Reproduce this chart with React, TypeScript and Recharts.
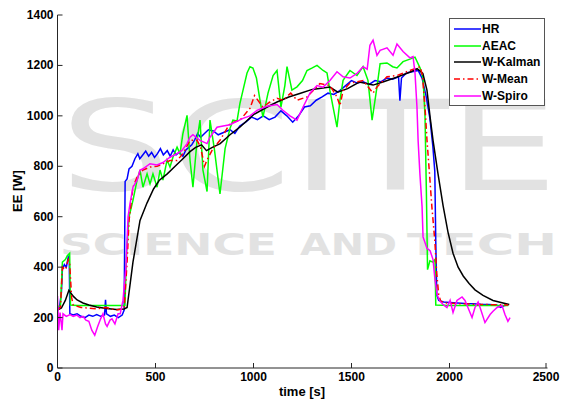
import * as React from 'react'
import { LineChart, Line, XAxis, YAxis } from 'recharts'

// time [s] / EE [W] pairs
const hrSeries: [number, number][] = [
  [0, 235], [10, 240], [20, 300], [25, 390], [35, 410], [45, 400], [55, 440], [60, 430], [63, 215], [80, 210],
  [100, 215], [120, 205], [140, 200], [160, 210], [180, 205], [200, 212], [220, 205], [240, 210], [245, 270], [250, 215],
  [270, 205], [290, 210], [310, 200], [330, 210], [340, 230], [345, 740], [355, 750], [365, 790], [380, 800], [395, 830],
  [410, 850], [420, 830], [435, 845], [450, 860], [465, 840], [480, 855], [495, 835], [510, 850], [525, 870], [540, 845],
  [560, 862], [575, 840], [590, 865], [605, 845], [620, 855], [640, 840], [655, 865], [670, 875], [685, 885], [700, 905],
  [715, 930], [730, 915], [750, 930], [770, 945], [795, 940], [820, 925], [850, 935], [880, 945], [905, 930], [930, 960],
  [960, 975], [990, 995], [1020, 985], [1050, 1000], [1080, 985], [1110, 995], [1140, 1020], [1170, 1000], [1200, 975],
  [1230, 1000], [1260, 1035], [1290, 1040], [1320, 1062], [1350, 1075], [1380, 1090], [1410, 1085], [1440, 1100],
  [1470, 1120], [1500, 1140], [1530, 1130], [1560, 1135], [1590, 1125], [1620, 1140], [1650, 1135], [1680, 1150],
  [1710, 1145], [1740, 1155], [1747, 1060], [1755, 1150], [1780, 1170], [1810, 1175], [1840, 1180], [1860, 1150],
  [1880, 1080], [1900, 990], [1915, 880], [1925, 780], [1930, 500], [1935, 290], [1945, 268], [1970, 262], [2000, 260],
  [2040, 258], [2080, 256], [2120, 255], [2160, 253], [2200, 252], [2240, 250], [2260, 240], [2280, 248], [2300, 250]
]

const aeacSeries: [number, number][] = [
  [0, 245], [15, 245], [20, 330], [25, 420], [40, 430], [50, 445], [62, 455], [66, 250], [100, 248], [200, 248],
  [300, 248], [344, 248], [352, 450], [365, 600], [385, 665], [406, 745], [421, 785], [436, 717], [457, 770], [472, 730],
  [487, 770], [508, 717], [523, 785], [538, 745], [559, 825], [574, 797], [589, 836], [610, 876], [625, 850], [640, 930],
  [661, 1002], [676, 825], [691, 717], [712, 903], [727, 983], [742, 785], [763, 700], [778, 983], [800, 870], [829, 690],
  [855, 870], [880, 950], [895, 983], [916, 980], [931, 1050], [946, 1100], [967, 1170], [982, 1195], [997, 1190],
  [1015, 1150], [1033, 1062], [1048, 995], [1074, 1090], [1100, 1160], [1120, 1180], [1140, 1035], [1160, 1120],
  [1171, 1195], [1196, 1102], [1222, 1115], [1250, 1140], [1273, 1180], [1300, 1190], [1324, 1200], [1355, 1180],
  [1375, 1170], [1390, 1100], [1406, 1035], [1426, 955], [1441, 1062], [1457, 1141], [1492, 1180], [1528, 1160],
  [1559, 1195], [1584, 1141], [1605, 983], [1630, 1115], [1646, 1207], [1681, 1210], [1710, 1195], [1732, 1190],
  [1763, 1215], [1798, 1225], [1824, 1233], [1850, 1190], [1865, 1150], [1875, 1000], [1882, 700], [1888, 390],
  [1900, 425], [1915, 420], [1926, 430], [1930, 250], [2000, 248], [2300, 248]
]

const kalmanSeries: [number, number][] = [
  [0, 230], [20, 238], [40, 268], [58, 308], [80, 285], [100, 270], [130, 258], [160, 250], [200, 242], [250, 236],
  [300, 232], [340, 234], [355, 240], [385, 420], [421, 585], [457, 655], [490, 710], [520, 745], [560, 770], [600, 800],
  [640, 830], [676, 858], [705, 875], [735, 885], [760, 862], [790, 875], [830, 890], [880, 925], [930, 955], [1000, 1005],
  [1070, 1035], [1120, 1055], [1180, 1075], [1240, 1090], [1300, 1105], [1390, 1114], [1430, 1094], [1480, 1108],
  [1540, 1134], [1610, 1122], [1660, 1134], [1730, 1153], [1800, 1174], [1835, 1187], [1864, 1168], [1885, 1102],
  [1901, 995], [1916, 903], [1941, 772], [1967, 645], [1992, 540], [2018, 455], [2044, 400], [2070, 365], [2100, 335],
  [2130, 310], [2171, 288], [2222, 268], [2273, 258], [2305, 252]
]

const meanSeries: [number, number][] = [
  [0, 230], [15, 240], [25, 400], [40, 390], [55, 430], [62, 415], [72, 280], [80, 250], [120, 240], [200, 235],
  [250, 240], [300, 230], [340, 235], [355, 420], [365, 585], [385, 717], [406, 757], [436, 785], [472, 797], [508, 800],
  [538, 810], [574, 823], [610, 823], [640, 850], [676, 903], [712, 903], [730, 876], [750, 800], [763, 825], [793, 870],
  [829, 903], [880, 970], [931, 983], [982, 1030], [1005, 1080], [1048, 1035], [1084, 1055], [1120, 1070], [1150, 1062],
  [1190, 1090], [1222, 1062], [1273, 1075], [1339, 1128], [1390, 1120], [1426, 1075], [1441, 1040], [1457, 1100],
  [1492, 1130], [1559, 1140], [1610, 1090], [1630, 1115], [1681, 1155], [1732, 1160], [1798, 1180], [1850, 1195],
  [1862, 1160], [1875, 1035], [1885, 905], [1898, 770], [1910, 640], [1925, 506], [1935, 374], [1945, 290], [1955, 265],
  [1975, 258], [2050, 255], [2150, 252], [2300, 250]
]

const spiroSeries: [number, number][] = [
  [0, 285], [6, 150], [13, 220], [23, 150], [28, 215], [45, 205], [64, 212], [80, 205], [99, 210], [115, 200],
  [130, 205], [145, 190], [160, 185], [175, 150], [190, 130], [205, 165], [220, 195], [232, 215], [245, 175], [253, 165],
  [268, 190], [278, 195], [293, 175], [309, 215], [320, 215], [334, 268], [349, 400], [360, 600], [370, 652], [385, 717],
  [406, 745], [421, 785], [436, 790], [472, 810], [508, 805], [538, 815], [574, 836], [610, 850], [635, 863], [661, 890],
  [676, 915], [691, 925], [727, 903], [763, 890], [778, 915], [814, 955], [845, 960], [880, 965], [946, 990], [982, 1000],
  [1018, 1022], [1069, 1038], [1120, 1045], [1150, 1022], [1186, 1000], [1222, 983], [1253, 1035], [1288, 1090],
  [1324, 1120], [1355, 1114], [1390, 1140], [1426, 1175], [1457, 1155], [1492, 1150], [1528, 1168], [1559, 1195],
  [1580, 1185], [1594, 1280], [1610, 1300], [1630, 1240], [1646, 1260], [1681, 1270], [1712, 1240], [1732, 1285],
  [1763, 1255], [1798, 1230], [1814, 1235], [1824, 1170], [1834, 1035], [1840, 900], [1849, 770], [1860, 640],
  [1865, 520], [1885, 475], [1901, 465], [1916, 430], [1926, 350], [1937, 290], [1951, 265], [1970, 250], [1987, 240],
  [2003, 268], [2018, 220], [2038, 268], [2064, 282], [2079, 268], [2094, 240], [2115, 200], [2130, 240], [2146, 262],
  [2156, 240], [2181, 180], [2207, 212], [2222, 225], [2243, 240], [2268, 248], [2283, 212], [2298, 185], [2309, 200]
]

const xTicks = [0, 500, 1000, 1500, 2000, 2500]
const yTicks = [0, 200, 400, 600, 800, 1000, 1200, 1400]

const series = [
  { name: 'HR', data: hrSeries, color: '#0000ff', dash: undefined },
  { name: 'AEAC', data: aeacSeries, color: '#00ff00', dash: undefined },
  { name: 'W-Kalman', data: kalmanSeries, color: '#000000', dash: undefined },
  { name: 'W-Mean', data: meanSeries, color: '#ff0000', dash: '6 3 1.5 3' },
  { name: 'W-Spiro', data: spiroSeries, color: '#ff00ff', dash: undefined }
]

const toRows = (s: [number, number][]) => s.map(([t, v]) => ({ t, v }))

const FONT = '"Liberation Sans", Arial, sans-serif'
const AXIS = '#262626'

const XTick = (props: any) => {
  const { x, y, payload } = props
  return (
    <g>
      <line x1={x} x2={x} y1={y} y2={y - 5} stroke={AXIS} />
      <text x={x} y={y + 9} textAnchor="middle" dominantBaseline="central" fontSize={12} fontWeight="bold" fontFamily={FONT} fill="#000">
        {payload.value}
      </text>
    </g>
  )
}

const YTick = (props: any) => {
  const { x, y, payload } = props
  return (
    <g>
      <line x1={x} x2={x + 5} y1={y} y2={y} stroke={AXIS} />
      <text x={x - 4} y={y} textAnchor="end" dominantBaseline="central" fontSize={12} fontWeight="bold" fontFamily={FONT} fill="#000">
        {payload.value}
      </text>
    </g>
  )
}

function LegendBox(): React.ReactElement {
  return (
    <div style={{ position: 'absolute', left: 449, top: 18, width: 94, height: 84, border: '1px solid #555', background: '#fff', paddingTop: 2 }}>
      {series.map((s) => (
        <div key={s.name} style={{ height: 16.6, display: 'flex', alignItems: 'center' }}>
          <svg width={31} height={10} style={{ flex: 'none' }}>
            <line x1={4} x2={31} y1={5} y2={5} stroke={s.color} strokeWidth={1.5} strokeDasharray={s.dash} />
          </svg>
          <span style={{ fontSize: 12, fontWeight: 'bold', fontFamily: FONT, color: '#000', marginLeft: 1, lineHeight: '14px' }}>{s.name}</span>
        </div>
      ))}
    </div>
  )
}

// faint publisher watermark behind the plot
function Watermark(): React.ReactElement {
  return (
    <svg width={562} height={400} style={{ position: 'absolute', left: 0, top: 0 }}>
      <g fill="#e2e2e2" fontFamily='"DejaVu Sans", sans-serif'>
        <text x={60} y={190} fontSize={124} textLength={498} lengthAdjust="spacingAndGlyphs">SCITE</text>
        <text x={60} y={255} fontSize={30} fontWeight="bold" textLength={217} lengthAdjust="spacingAndGlyphs">SCIENCE</text>
        <text x={300} y={255} fontSize={30} fontWeight="bold" textLength={97} lengthAdjust="spacingAndGlyphs">AND</text>
        <text x={407} y={255} fontSize={30} fontWeight="bold" textLength={150} lengthAdjust="spacingAndGlyphs">TECH</text>
      </g>
    </svg>
  )
}

export default function App(): React.ReactElement {
  return (
    <div style={{ position: 'absolute', left: 0, top: 0, width: 562, height: 400, background: '#fff', overflow: 'hidden' }}>
      <Watermark />
      <div style={{ position: 'absolute', left: 0, top: 0 }}>
        <LineChart width={562} height={400} margin={{ top: 15, right: 14.5, left: 0, bottom: 0 }}>
          <XAxis
            dataKey="t"
            type="number"
            domain={[0, 2500]}
            ticks={xTicks}
            height={32}
            stroke={AXIS}
            tickLine={false}
            tickSize={0}
            tickMargin={0}
            tick={<XTick />}
            allowDataOverflow
            label={{
              content: () => (
                <text x={302} y={391} textAnchor="middle" dominantBaseline="central" fontSize={13} fontWeight="bold" fontFamily={FONT} fill="#000">
                  time [s]
                </text>
              )
            }}
          />
          <YAxis
            type="number"
            domain={[0, 1400]}
            ticks={yTicks}
            width={57.5}
            stroke={AXIS}
            tickLine={false}
            tickSize={0}
            tickMargin={0}
            tick={<YTick />}
            label={{
              content: () => (
                <text x={17} y={191} transform="rotate(-90 17 191)" textAnchor="middle" dominantBaseline="central" fontSize={13} fontWeight="bold" fontFamily={FONT} fill="#000">
                  EE [W]
                </text>
              )
            }}
          />
          {series.map((s) => (
            <Line
              key={s.name}
              data={toRows(s.data)}
              dataKey="v"
              name={s.name}
              stroke={s.color}
              strokeWidth={1.5}
              strokeDasharray={s.dash}
              dot={false}
              isAnimationActive={false}
            />
          ))}
        </LineChart>
      </div>
      <LegendBox />
    </div>
  )
}
